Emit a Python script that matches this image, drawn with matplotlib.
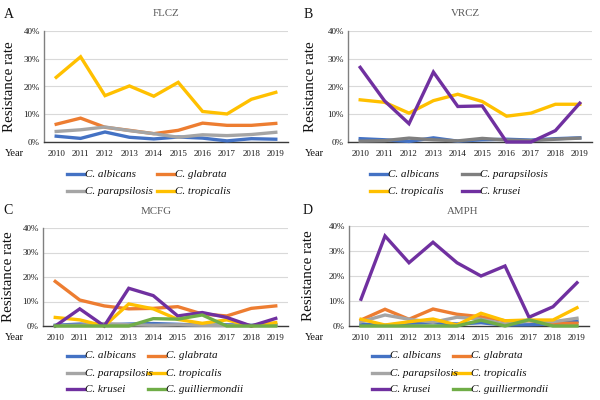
import matplotlib
matplotlib.use("Agg")
import matplotlib.pyplot as plt
from matplotlib.lines import Line2D

plt.rcParams['font.family'] = ['Liberation Serif', 'DejaVu Serif']

years = ["2010", "2011", "2012", "2013", "2014", "2015", "2016", "2017", "2018", "2019"]
y_ticks = [0, 0.1, 0.2, 0.3, 0.4]
y_tick_labels = ["0%", "10%", "20%", "30%", "40%"]

# Panel A: FLCZ
flcz_albicans = [2.1, 1.3, 3.6, 1.7, 1.1, 1.8, 1.4, 0.4, 1.2, 1.0]
flcz_glabrata = [6.4, 8.6, 5.3, 4.2, 3.0, 4.2, 6.8, 6.0, 6.0, 6.7]
flcz_parapsilosis = [3.8, 4.4, 5.4, 4.1, 3.0, 1.7, 2.6, 2.3, 2.7, 3.5]
flcz_tropicalis = [23.3, 30.7, 16.7, 20.2, 16.5, 21.5, 11.0, 10.1, 15.4, 17.9]

# Panel B: VRCZ
vrcz_albicans = [1.2, 0.8, 0.2, 1.5, 0.3, 0.8, 1.0, 0.7, 1.2, 1.5]
vrcz_parapsilosis = [0.3, 0.5, 1.4, 0.8, 0.4, 1.3, 0.7, 0.5, 1.0, 1.4]
vrcz_tropicalis = [15.2, 14.3, 10.4, 14.9, 17.2, 14.6, 9.3, 10.4, 13.6, 13.6]
vrcz_krusei = [26.9, 14.8, 6.6, 25.2, 12.8, 13.0, 0.0, 0.0, 4.1, 14.0]

# Panel C: MCFG
mcfg_albicans = [0.3, 0.8, 0.5, 0.8, 1.0, 0.7, 0.3, 0.5, 0.3, 0.5]
mcfg_glabrata = [18.2, 10.6, 8.2, 7.0, 7.2, 7.9, 4.9, 4.1, 7.2, 8.2]
mcfg_parapsilosis = [0.2, 0.3, 1.0, 0.5, 0.3, 0.5, 0.3, 0.2, 0.2, 0.3]
mcfg_tropicalis = [3.5, 2.5, 0.0, 9.0, 7.0, 2.7, 1.1, 2.5, 0.0, 1.4]
mcfg_krusei = [0.0, 7.0, 0.0, 15.4, 12.4, 4.1, 5.5, 3.5, 0.0, 3.1]
mcfg_guilliermondii = [0.0, 0.0, 0.0, 0.0, 3.0, 2.8, 4.5, 0.0, 0.0, 0.0]

# Panel D: AMPH
amph_albicans = [0.8, 0.3, 1.1, 1.3, 0.8, 1.3, 0.4, 0.5, 0.8, 1.9]
amph_glabrata = [2.4, 6.7, 2.7, 6.8, 4.7, 3.7, 2.1, 2.1, 1.1, 1.1]
amph_parapsilosis = [1.7, 4.4, 2.7, 1.5, 3.5, 2.7, 0.8, 2.1, 1.7, 3.1]
amph_tropicalis = [2.7, 0.4, 1.7, 2.8, 0.4, 5.1, 2.1, 2.4, 2.4, 7.3]
amph_krusei = [10.7, 36.0, 25.3, 33.5, 25.3, 20.0, 24.0, 3.5, 7.7, 17.3]
amph_guilliermondii = [0.0, 0.0, 0.0, 0.0, 0.0, 2.3, 0.0, 2.5, 0.0, 0.0]

C_ALB = '#4472C4'
C_GLA = '#ED7D31'
C_PAR = '#A5A5A5'
C_PAR_DARK = '#7F7F7F'
C_TRO = '#FFC000'
C_KRU = '#7030A0'
C_GUI = '#70AD47'

panels = [
    dict(letter="A", title="FLCZ", rect=[44/600, 1-142/400, 244/600, 111/400],
         series=[("C. albicans", flcz_albicans, C_ALB),
                 ("C. glabrata", flcz_glabrata, C_GLA),
                 ("C. parapsilosis", flcz_parapsilosis, C_PAR),
                 ("C. tropicalis", flcz_tropicalis, C_TRO)],
         leg_x=[67, 157], leg_y=[174, 191], letter_xy=(4, 14), title_x=166, title_y=14,
         ylab_x=10, year_xy=(5, 154)),
    dict(letter="B", title="VRCZ", rect=[348/600, 1-142/400, 244/600, 111/400],
         series=[("C. albicans", vrcz_albicans, C_ALB),
                 ("C. parapsilosis", vrcz_parapsilosis, C_PAR_DARK),
                 ("C. tropicalis", vrcz_tropicalis, C_TRO),
                 ("C. krusei", vrcz_krusei, C_KRU)],
         leg_x=[370, 462], leg_y=[174, 191], letter_xy=(304, 14), title_x=465, title_y=14,
         ylab_x=310, year_xy=(305, 154)),
    dict(letter="C", title="MCFG", rect=[43/600, 1-326/400, 245/600, 98/400],
         series=[("C. albicans", mcfg_albicans, C_ALB),
                 ("C. glabrata", mcfg_glabrata, C_GLA),
                 ("C. parapsilosis", mcfg_parapsilosis, C_PAR),
                 ("C. tropicalis", mcfg_tropicalis, C_TRO),
                 ("C. krusei", mcfg_krusei, C_KRU),
                 ("C. guilliermondii", mcfg_guilliermondii, C_GUI)],
         leg_x=[67, 148], leg_y=[356, 373, 389], letter_xy=(3, 210), title_x=156, title_y=211,
         ylab_x=9, year_xy=(5, 337)),
    dict(letter="D", title="AMPH", rect=[349/600, 1-326/400, 240/600, 100/400],
         series=[("C. albicans", amph_albicans, C_ALB),
                 ("C. glabrata", amph_glabrata, C_GLA),
                 ("C. parapsilosis", amph_parapsilosis, C_PAR),
                 ("C. tropicalis", amph_tropicalis, C_TRO),
                 ("C. krusei", amph_krusei, C_KRU),
                 ("C. guilliermondii", amph_guilliermondii, C_GUI)],
         leg_x=[372, 453], leg_y=[356, 373, 389], letter_xy=(303, 210), title_x=463, title_y=211,
         ylab_x=309, year_xy=(305, 337)),
]

fig = plt.figure(figsize=(6, 4), dpi=100)

def fx(px):
    return px / 600

def fy(py):
    return 1 - py / 400

LW = 2.4
for p in panels:
    ax = fig.add_axes(p["rect"])
    x = list(range(len(years)))
    for name, vals, col in p["series"]:
        ax.plot(x, [v / 100 for v in vals], color=col, lw=LW, solid_joinstyle='miter',
                clip_on=False, zorder=3)
    ax.set_xlim(-0.5, len(years) - 0.5)
    ax.set_ylim(0, 0.4)
    ax.set_yticks(y_ticks)
    ax.set_yticklabels(y_tick_labels)
    ax.set_xticks(x)
    ax.set_xticklabels(years)
    ax.tick_params(axis='both', length=0, labelsize=6.5, colors='#1a1a1a', pad=3)
    ax.tick_params(axis='x', pad=6)
    ax.grid(axis='y', color='#d9d9d9', lw=0.8)
    ax.set_axisbelow(True)
    for s in ['top', 'right']:
        ax.spines[s].set_visible(False)
    ax.spines['left'].set_color('#808080')
    ax.spines['left'].set_linewidth(1.0)
    ax.spines['bottom'].set_color('#3a3a3a')
    ax.spines['bottom'].set_linewidth(1.0)
    bottom = p["rect"][1]
    height = p["rect"][3]
    fig.text(fx(p["ylab_x"]), bottom + height / 2, "Resistance rate", rotation=90,
             ha='center', va='center', fontsize=10.8, color='#111111')
    fig.text(fx(p["year_xy"][0]), fy(p["year_xy"][1]), "Year", ha='left', va='center',
             fontsize=7.5, color='#111111')
    fig.text(fx(p["letter_xy"][0]), fy(p["letter_xy"][1]), p["letter"], ha='left', va='center',
             fontsize=10, color='#111111')
    fig.text(fx(p["title_x"]), fy(p["title_y"]), p["title"], ha='center', va='center',
             fontsize=7.8, color='#595959')
    for i, (name, vals, col) in enumerate(p["series"]):
        r, c = divmod(i, 2)
        lx = p["leg_x"][c]
        ly = p["leg_y"][r]
        fig.add_artist(Line2D([fx(lx), fx(lx + 17)], [fy(ly), fy(ly)], color=col, lw=LW,
                              transform=fig.transFigure))
        fig.text(fx(lx + 18), fy(ly), name, ha='left', va='center', fontsize=8,
                 style='italic', color='#111111')

fig.savefig("out.png", dpi=100)
